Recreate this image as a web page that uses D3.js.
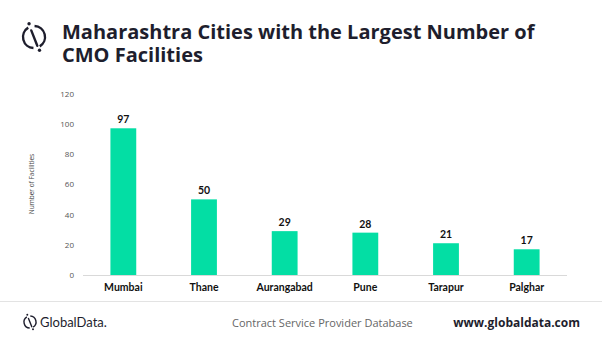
<!DOCTYPE html>
<html>
<head>
<meta charset="utf-8">
<script src="https://cdn.jsdelivr.net/npm/d3@7"></script>
<style>
  body { margin: 0; background: #fff; }
  text { font-family: "Open Sans", "Noto Sans", sans-serif; }
</style>
</head>
<body>
<div id="chart"></div>
<script>
// cities and facility counts
var cities = ["Mumbai", "Thane", "Aurangabad", "Pune", "Tarapur", "Palghar"];
var facilities = [97, 50, 29, 28, 21, 17];
var yTicks = [0, 20, 40, 60, 80, 100, 120];

var width = 602, height = 344;
var barColor = "#03dea4";
var ink = "#1e1e2d";

var svg = d3.select("#chart")
    .append("svg")
    .attr("width", width)
    .attr("height", height);

// logo mark: open ring cut by a slash, a dot at each end of the slash
function drawMark(g, r, sw) {
    var arc = d3.arc().innerRadius(r - sw / 2).outerRadius(r + sw / 2);
    // gaps around -20deg (top-left) and 160deg (bottom-right)
    g.append("path")
        .attr("d", arc({ startAngle: 0.05, endAngle: Math.PI - 0.55 }))
        .attr("fill", ink);
    g.append("path")
        .attr("d", arc({ startAngle: Math.PI + 0.05, endAngle: 2 * Math.PI - 0.55 }))
        .attr("fill", ink);
    g.append("line")
        .attr("x1", -r * 0.25).attr("y1", -r * 0.6)
        .attr("x2", r * 0.3).attr("y2", r * 0.8)
        .attr("stroke", ink)
        .attr("stroke-width", sw)
        .attr("stroke-linecap", "round");
    g.append("circle").attr("cx", -r * 0.45).attr("cy", -r * 1.2).attr("r", sw * 0.7).attr("fill", ink);
    g.append("circle").attr("cx", r * 0.5).attr("cy", r * 1.2).attr("r", sw * 0.7).attr("fill", ink);
}

drawMark(svg.append("g").attr("transform", "translate(34,37)"), 11, 2.4);

// title
var title = svg.append("text")
    .attr("x", 62)
    .attr("y", 39)
    .attr("font-size", 20)
    .attr("font-weight", "bold")
    .attr("fill", ink);
title.append("tspan").attr("x", 62).text("Maharashtra Cities with the Largest Number of");
title.append("tspan").attr("x", 62).attr("dy", 23).text("CMO Facilities");

// scales
var x = d3.scaleBand()
    .domain(cities)
    .range([83, 567])
    .paddingInner(0.68)
    .paddingOuter(0.34);

var y = d3.scaleLinear()
    .domain([0, 120])
    .range([275, 93.5]);

// y axis, ticks only
var yAxis = svg.append("g")
    .attr("transform", "translate(74,0)")
    .call(d3.axisLeft(y).tickValues(yTicks).tickSize(0).tickPadding(0));
yAxis.select(".domain").remove();
yAxis.selectAll("text")
    .attr("font-size", 8)
    .attr("fill", "#555")
    .style("font-family", "'Open Sans', sans-serif");

svg.append("text")
    .attr("transform", "translate(34,184) rotate(-90)")
    .attr("text-anchor", "middle")
    .attr("font-size", 6.5)
    .attr("fill", "#444")
    .text("Number of Facilities");

// baseline
svg.append("line")
    .attr("x1", 83).attr("x2", 567)
    .attr("y1", y(0) + 0.5).attr("y2", y(0) + 0.5)
    .attr("stroke", "#d9d9d9");

// bars
svg.selectAll(".bar")
    .data(facilities)
    .enter()
    .append("rect")
    .attr("class", "bar")
    .attr("x", function (d, i) { return x(cities[i]); })
    .attr("y", function (d) { return y(d); })
    .attr("width", x.bandwidth())
    .attr("height", function (d) { return y(0) - y(d); })
    .attr("fill", barColor);

// value labels
svg.selectAll(".value")
    .data(facilities)
    .enter()
    .append("text")
    .attr("class", "value")
    .attr("x", function (d, i) { return x(cities[i]) + x.bandwidth() / 2; })
    .attr("y", function (d) { return y(d) - 5; })
    .attr("text-anchor", "middle")
    .attr("font-size", 10.5)
    .attr("font-weight", "bold")
    .attr("fill", "#111")
    .style("font-family", "Lato, sans-serif")
    .text(function (d) { return d; });

// category labels
svg.selectAll(".cat")
    .data(cities)
    .enter()
    .append("text")
    .attr("class", "cat")
    .attr("x", function (d) { return x(d) + x.bandwidth() / 2; })
    .attr("y", 291)
    .attr("text-anchor", "middle")
    .attr("font-size", 10.5)
    .attr("font-weight", "bold")
    .attr("fill", "#111")
    .style("font-family", "Lato, sans-serif")
    .text(function (d) { return d; });

// footer
svg.append("line")
    .attr("x1", 0).attr("x2", width)
    .attr("y1", 301.5).attr("y2", 301.5)
    .attr("stroke", "#e3e3e3");

drawMark(svg.append("g").attr("transform", "translate(30,322)"), 6, 1.4);

svg.append("text")
    .attr("x", 40)
    .attr("y", 327)
    .attr("font-size", 13)
    .attr("fill", ink)
    .style("font-family", "'Lato', sans-serif")
    .text("GlobalData.");

svg.append("text")
    .attr("x", 232)
    .attr("y", 327)
    .attr("font-size", 11)
    .attr("fill", "#666")
    .text("Contract Service Provider Database");

svg.append("text")
    .attr("x", 580)
    .attr("y", 327)
    .attr("text-anchor", "end")
    .attr("font-size", 12)
    .attr("font-weight", "bold")
    .attr("fill", ink)
    .text("www.globaldata.com");
</script>
</body>
</html>
